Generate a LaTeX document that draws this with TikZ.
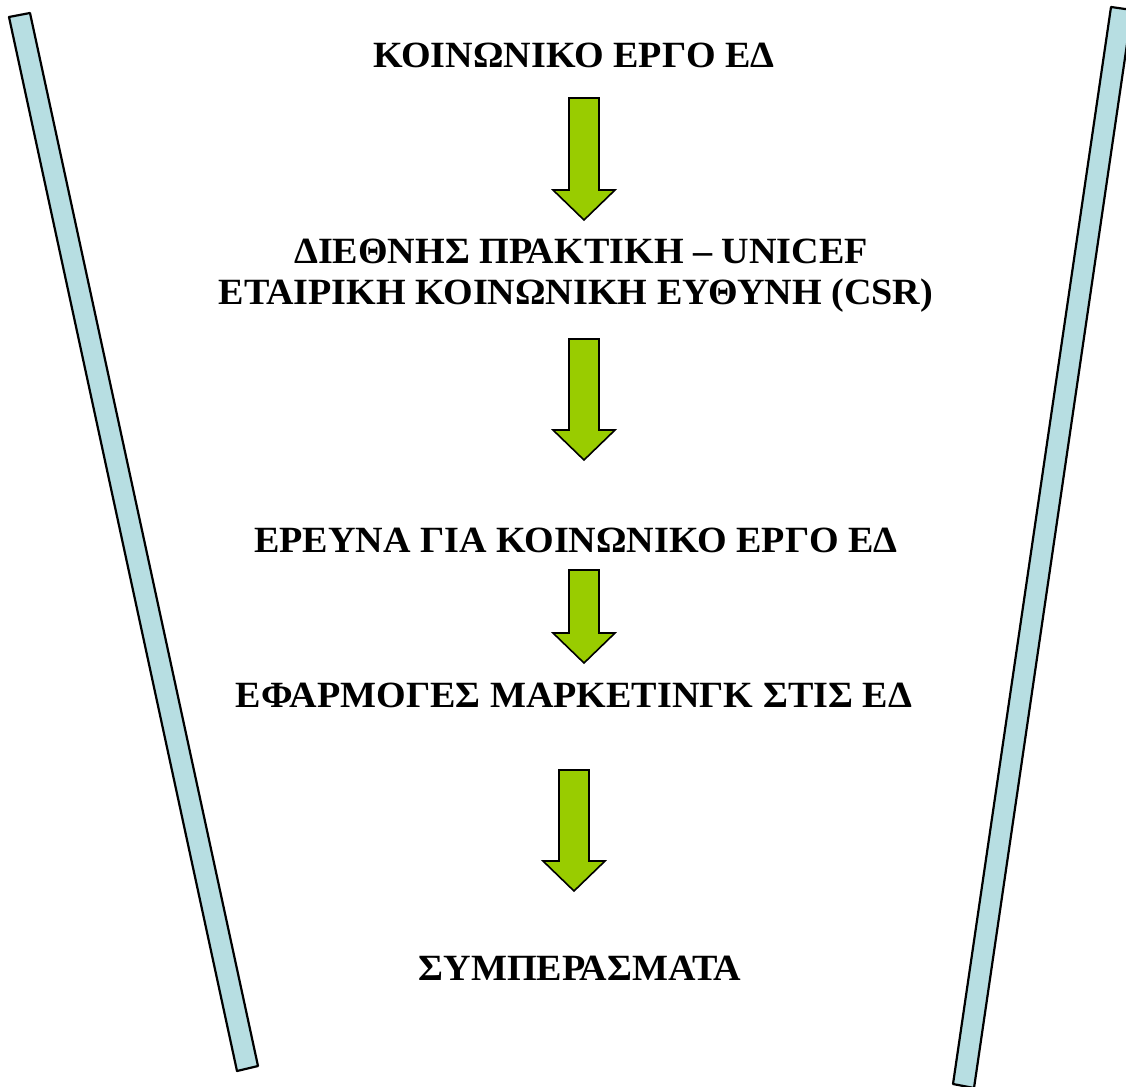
\documentclass[tikz,border=0pt]{standalone}
\usepackage{fontspec}
\setmainfont{Liberation Serif}
\usetikzlibrary{positioning}
\definecolor{barblue}{RGB}{183,222,226}
\definecolor{arrowgreen}{RGB}{153,204,0}
\tikzstyle{stage} = [font=\fontsize{37}{44}\selectfont\bfseries, anchor=base, inner sep=0pt]
\tikzstyle{bar} = [draw, line width=2.2pt, fill=barblue, line join=round]
\tikzstyle{blockarrow} = [draw, line width=1.6pt, fill=arrowgreen]
% slightly wide letters, as in the original slide
\newcommand{\wide}[1]{\scalebox{1.03}[1]{#1}}
% block arrow pointing down: top coordinate, shaft length
\newcommand{\downblock}[2]{%
  \draw[blockarrow] (#1) ++(-15,0) -- ++(30,0) -- ++(0,#2) -- ++(16,0)
    -- ++(-31,30) -- ++(-31,-30) -- ++(16,0) -- cycle;}

\begin{document}
\begin{tikzpicture}[x=1pt, y=-1pt]
    \useasboundingbox (0,0) rectangle (1126,1086);
    \clip (0,0) rectangle (1126,1086);

    % Side bars
    \draw[bar] (9,17) -- (30,13) -- (258,1066) -- (237,1071) -- cycle;
    \draw[bar] (1111,7) -- (1132,10) -- (974,1088) -- (953,1084) -- cycle;

    % Place nodes
    \node [stage] (work) at (574,68) {\wide{ΚΟΙΝΩΝΙΚΟ ΕΡΓΟ ΕΔ}};
    \node [stage] (practice) at (581,263) {\wide{ΔΙΕΘΝΗΣ ΠΡΑΚΤΙΚΗ – UNICEF}};
    \node [stage] (csr) at (576,304) {\wide{ΕΤΑΙΡΙΚΗ ΚΟΙΝΩΝΙΚΗ ΕΥΘΥΝΗ (CSR)}};
    \node [stage] (research) at (576,552) {\wide{ΕΡΕΥΝΑ ΓΙΑ ΚΟΙΝΩΝΙΚΟ ΕΡΓΟ ΕΔ}};
    \node [stage] (marketing) at (574,707) {\wide{ΕΦΑΡΜΟΓΕΣ ΜΑΡΚΕΤΙΝΓΚ ΣΤΙΣ ΕΔ}};
    \node [stage] (results) at (580,980) {\wide{ΣΥΜΠΕΡΑΣΜΑΤΑ}};

    % Draw arrows
    \coordinate (a1) at (584,98);
    \coordinate (a2) at (584,339);
    \coordinate (a3) at (584,570);
    \coordinate (a4) at (574,770);
    \downblock{a1}{92}
    \downblock{a2}{91}
    \downblock{a3}{63}
    \downblock{a4}{91}
\end{tikzpicture}
\end{document}
